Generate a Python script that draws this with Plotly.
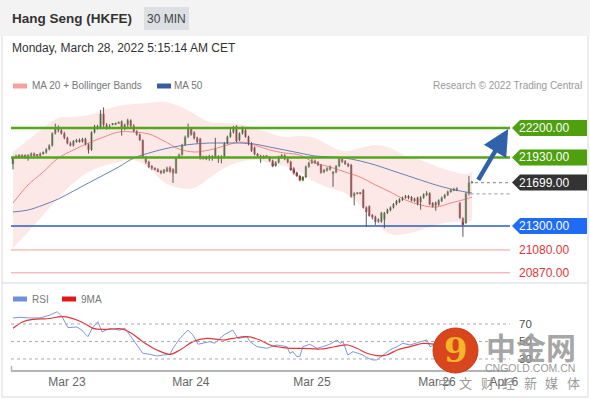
import plotly.graph_objects as go

# ---------------- data ----------------
opens = [21870,21925,21940,21935,21945,21935,21945,21965,21950,21945,21965,21975,22005,22040,22150,22205,22180,22150,22110,22060,
         22040,22080,22090,22075,22100,22050,22000,22160,22215,22200,22330,22230,22200,22230,22235,22245,22260,22190,22230,22270,
         22220,22170,22140,22090,21934,21888,21850,21830,21820,21805,21790,21800,21835,21820,21785,21925,21955,22045,22117,22190,
         22160,22110,22100,21920,21935,21920,21940,21930,21940,21920,21935,22060,22120,22160,22215,22090,22150,22180,22120,22060,
         22020,21960,21945,21925,21940,21930,21900,21855,21885,21930,21950,21915,21890,21830,21790,21760,21720,21750,21845,21880,
         21900,21885,21860,21795,21810,21820,21780,21795,21850,21915,21895,21870,21860,21575,21595,21600,21630,21470,21480,21400,
         21385,21340,21340,21360,21420,21445,21470,21500,21520,21540,21560,21575,21565,21530,21560,21520,21560,21585,21600,21510,
         21515,21495,21530,21560,21585,21615,21625,21630,21510,21370,21330,21600,21695]
highs = [21935,21955,21960,21960,21958,21960,21975,21975,21960,21975,21985,22015,22050,22160,22240,22225,22200,22165,22120,22075,
         22090,22100,22105,22110,22110,22060,22170,22230,22230,22365,22390,22245,22235,22245,22250,22260,22270,22240,22285,22280,
         22235,22180,22150,22095,21940,21900,21860,21840,21830,21815,21825,21845,21850,21830,21935,21965,22055,22130,22240,22200,
         22170,22120,22110,21945,21945,21955,21950,22110,21950,21950,22070,22130,22200,22220,22225,22160,22215,22190,22130,22070,
         22030,21970,21955,21950,21945,21940,21910,21895,21945,21960,21960,21925,21900,21840,21800,21770,21760,21855,21890,21920,
         21910,21895,21870,21825,21840,21855,21805,21860,21935,21925,21905,21880,21870,21610,21605,21605,21640,21480,21490,21410,
         21395,21370,21430,21430,21460,21480,21510,21540,21555,21570,21585,21585,21575,21560,21570,21575,21600,21620,21610,21520,
         21525,21545,21570,21595,21625,21640,21650,21655,21520,21380,21610,21760,21715]
lows = [21820,21915,21920,21925,21915,21900,21935,21940,21930,21935,21955,21965,21995,22030,22140,22160,22140,22095,22050,22030,
        22030,22065,22065,22065,22040,21965,21990,22150,22185,22190,22210,22185,22190,22225,22230,22240,22130,22180,22210,22200,
        22160,22130,22080,21925,21870,21830,21815,21810,21795,21775,21780,21795,21790,21695,21780,21915,21945,22035,22110,22130,
        22095,22060,21910,21910,21905,21900,21900,21920,21880,21875,21925,22050,22110,22150,22070,22080,22140,22110,22040,21980,
        21950,21930,21880,21915,21925,21890,21840,21845,21875,21920,21905,21875,21805,21770,21750,21710,21710,21740,21835,21870,
        21870,21850,21780,21785,21800,21810,21660,21785,21840,21880,21860,21840,21560,21490,21590,21590,21460,21290,21385,21360,
        21310,21330,21330,21280,21410,21435,21460,21490,21510,21530,21550,21545,21525,21520,21490,21450,21550,21575,21490,21470,
        21440,21485,21520,21550,21575,21605,21620,21620,21365,21200,21320,21580,21690]
closes = [21925,21940,21935,21945,21935,21945,21965,21950,21945,21965,21975,22005,22040,22150,22205,22180,22150,22110,22060,22040,
          22080,22090,22075,22100,22050,22000,22160,22215,22200,22330,22230,22200,22215,22235,22240,22250,22190,22230,22270,22220,
          22170,22140,22090,21934,21888,21842,21830,21820,21805,21790,21815,21830,21800,21785,21925,21955,22045,22117,22190,22140,
          22105,22070,21920,21935,21920,21940,21925,22010,21920,21935,22060,22120,22160,22210,22080,22150,22190,22120,22050,21990,
          21960,21945,21925,21940,21935,21900,21850,21885,21935,21950,21915,21885,21815,21785,21760,21720,21750,21845,21880,21900,
          21880,21860,21790,21815,21830,21845,21795,21850,21920,21890,21870,21850,21570,21600,21600,21595,21470,21430,21395,21380,
          21340,21360,21420,21420,21450,21470,21500,21530,21545,21560,21575,21555,21535,21550,21500,21560,21590,21600,21500,21480,
          21490,21535,21560,21585,21615,21630,21640,21645,21375,21310,21600,21700,21699]
bars = list(range(len(closes)))

band_x = [0,5,10,15,20,25,30,35,40,45,50,55,60,65,70,75,80,85,90,95,100,105,110,115,120,125,130,135,140,145,150,152]
bb_upper = [21980,22090,22200,22292,22301,22319,22365,22402,22420,22430,22439,22402,22329,22255,22246,22237,22200,22154,22117,22127,
            22108,22035,21989,22016,22044,22016,21943,21906,21851,21805,21778,21796]
ma20 = [21511,21677,21796,21924,21998,22062,22117,22163,22163,22145,22081,22007,21980,21998,22035,22071,22044,21998,21970,21952,
        21879,21842,21796,21750,21677,21612,21539,21493,21474,21511,21548,21566]
bb_lower = [21098,21245,21401,21557,21695,21796,21851,21888,21906,21833,21704,21649,21649,21741,21833,21888,21906,21879,21851,21796,
            21704,21649,21603,21493,21337,21226,21226,21263,21309,21337,21337,21355]
ma50 = [21429,21447,21493,21548,21621,21695,21768,21842,21924,21970,22007,22035,22053,22062,22062,22062,22053,22025,21998,21970,
        21943,21934,21924,21897,21860,21814,21768,21722,21677,21640,21612,21603]

rsi_x = [0,2.3,5.6,8.9,12.3,14.6,16.2,18.2,21.2,22.8,24.8,26.2,28.1,29.5,32.1,35.4,37.1,38.7,39.7,42.1,43.0,45.4,47.7,49.7,52.0,53.0,
         55.3,57.9,59.6,61.3,62.9,65.2,66.9,68.5,70.2,72.8,74.5,77.5,78.5,80.8,84.1,87.4,
         90.7,91.7,92.7,94.0,95.0,96.0,98.3,100.7,102.6,104.9,107.3,108.3,109.3,110.9,112.6,113.9,115.6,117.2,119.2,120.5,122.5,
         124.8,127.2,129.1,131.5,133.8,135.8,137.1,138.1,141.4,144.7,146.7,147.7,148.7,149.7,151.0,152.0]
rsi = [76.9,77.7,76.9,76.9,80.3,84.0,78.6,65.8,66.6,63.0,55.5,65.0,72.6,61.0,65.0,63.0,65.0,57.4,53.5,42.2,36.5,35.3,33.4,34.5,35.3,42.2,
       53.6,63.0,57.4,46.8,47.9,49.8,47.9,53.5,58.2,63.0,53.5,55.4,49.8,44.1,42.2,46.0,
       44.1,36.5,38.4,32.7,32.7,44.1,46.8,42.2,44.1,46.8,51.7,47.9,49.8,34.6,38.4,37.0,35.0,31.5,28.9,28.9,34.6,
       40.3,44.1,47.9,46.0,48.9,50.6,51.7,44.1,48.0,52.0,53.0,38.0,33.0,50.0,56.0,57.0]
ma9_x = [0,3.3,6.6,11.3,16.6,21.2,24.5,26.5,31.1,36.4,39.7,43.0,47.7,52.0,55.3,59.6,64.2,69.5,72.8,77.5,81.8,85.1,89.4,91.7,96.0,
         101.7,104.9,108.3,110.9,113.9,117.2,120.5,123.8,127.2,131.5,135.8,139.1,144.7,149.7,152.0]
rsi_ma9 = [65.1,72.6,75.3,76.0,78.4,74.6,68.9,65.0,63.9,64.2,58.2,49.8,40.3,35.3,40.3,49.8,53.6,51.7,53.6,55.5,51.7,46.0,42.9,42.2,42.2,
           41.4,42.9,45.2,46.0,42.2,36.5,33.8,34.6,40.3,44.1,47.9,47.0,48.0,46.0,47.0]

day_ticks = [17.9, 58.9, 99.0, 140.4, 162.6]
day_labels = ["Mar 23", "Mar 24", "Mar 25", "Mar 26", "Apr 6"]

target_levels = [22200, 21930]
current_price = 21699
support_level = 21300
red_levels = [21080, 20870]
prev_level = 21595
rsi_levels = [70, 50, 30]
watermark_chars = ["中", "文", "财", "经", "新", "媒", "体"]

# ---------------- figure ----------------
W, H = 590, 400
def px(x):
    return x / W
def py(y):
    return 1 - y / H

X0, X1 = 11, 510
GREEN, RED = "#3b8a2b", "#c6272c"
fig = go.Figure()

fig.add_trace(go.Scatter(x=band_x, y=bb_upper, mode="lines", line=dict(width=0, shape="spline"),
                         hoverinfo="skip", showlegend=False))
fig.add_trace(go.Scatter(x=band_x, y=bb_lower, mode="lines", line=dict(width=0, shape="spline"),
                         fill="tonexty", fillcolor="rgba(251,210,210,0.5)", hoverinfo="skip", showlegend=False))
fig.add_trace(go.Scatter(x=band_x, y=ma20, mode="lines", line=dict(width=1, color="#f08686", shape="spline"),
                         showlegend=False))
fig.add_trace(go.Scatter(x=band_x, y=ma50, mode="lines", line=dict(width=1, color="#6a7fb5", shape="spline"),
                         showlegend=False))

# candles: wicks + bodies
wx, wy = [], []
for i, h, l in zip(bars, highs, lows):
    wx += [i, i, None]
    wy += [h, l, None]
fig.add_trace(go.Scatter(x=wx, y=wy, mode="lines", line=dict(color="#5a5a5a", width=1), showlegend=False,
                         hoverinfo="skip"))
body_base = [min(o, c) for o, c in zip(opens, closes)]
body_h = [max(abs(c - o), 9) for o, c in zip(opens, closes)]
body_col = [GREEN if c >= o else RED for o, c in zip(opens, closes)]
fig.add_trace(go.Bar(x=bars, y=body_h, base=body_base, width=0.8, marker=dict(color=body_col, line=dict(width=0)),
                     showlegend=False))

fig.add_trace(go.Scatter(x=rsi_x, y=rsi, mode="lines", line=dict(width=1, color="#7b97dd"),
                         xaxis="x2", yaxis="y2", showlegend=False))
fig.add_trace(go.Scatter(x=ma9_x, y=rsi_ma9, mode="lines", line=dict(width=1.2, color="#e0353a", shape="spline"),
                         xaxis="x2", yaxis="y2", showlegend=False))

xr = [-0.66, 164.6]
fig.update_layout(
    width=W, height=H, margin=dict(l=0, r=0, t=0, b=0, pad=0, autoexpand=False), barmode="overlay",
    showlegend=False, paper_bgcolor="white", plot_bgcolor="rgba(0,0,0,0)",
    font=dict(family="Arial, Liberation Sans, sans-serif", color="#555"),
    xaxis=dict(domain=[px(X0), px(X1)], range=xr, visible=False, automargin=False),
    yaxis=dict(domain=[py(280), py(80)], range=[20804, 22641], visible=False, automargin=False),
    xaxis2=dict(domain=[px(X0), px(X1)], range=xr, anchor="y2", showgrid=False, zeroline=False, automargin=False,
                showline=True, linecolor="#b4b4b4", linewidth=2, ticks="",
                tickvals=day_ticks, ticktext=day_labels, tickfont=dict(size=12, color="#666")),
    yaxis2=dict(domain=[py(370), py(296)], range=[17.4, 102], visible=False, automargin=False),
)

shapes = []
# frame
shapes.append(dict(type="rect", xref="paper", yref="paper", x0=0, x1=1, y0=py(36), y1=1,
                   fillcolor="#f3f3f3", line=dict(width=0), layer="below"))
for (xa, ya, xb, yb) in [(2, 36, 2, 397), (588, 36, 588, 397), (2, 397, 588, 397), (2, 283, 588, 283)]:
    shapes.append(dict(type="line", xref="paper", yref="paper", x0=px(xa), x1=px(xb), y0=py(ya), y1=py(yb),
                       line=dict(color="#e6e6e6", width=1.5)))
shapes.append(dict(type="rect", xref="paper", yref="paper", x0=px(144), x1=px(189), y0=py(30), y1=py(7),
                   fillcolor="#dcdfe4", line=dict(width=0)))
shapes.append(dict(type="line", xref="paper", yref="paper", x0=px(11.5), x1=px(11.5), y0=py(366), y1=py(371),
                   line=dict(color="#b4b4b4", width=1.5)))

# levels
for lv in target_levels:
    shapes.append(dict(type="line", xref="paper", yref="y", x0=px(X0), x1=px(X1), y0=lv, y1=lv,
                       line=dict(color="#55a61a", width=2.5)))
shapes.append(dict(type="line", xref="paper", yref="y", x0=px(X0), x1=px(X1), y0=support_level, y1=support_level,
                   line=dict(color="#2b5cbd", width=1.5)))
for lv in red_levels:
    shapes.append(dict(type="line", xref="paper", yref="y", x0=px(X0), x1=px(X1), y0=lv, y1=lv,
                       line=dict(color="#f29a9a", width=1)))
shapes.append(dict(type="line", xref="x", yref="y", x0=bars[-1] + 1, x1=164.6, y0=current_price, y1=current_price,
                   line=dict(color="#999", width=1.2, dash="dot")))
shapes.append(dict(type="line", xref="x", yref="y", x0=bars[-1] - 0.5, x1=164.6, y0=prev_level, y1=prev_level,
                   line=dict(color="#aab", width=1.2, dash="dot")))
for lv in rsi_levels:
    shapes.append(dict(type="line", xref="paper", yref="y2", x0=px(X0), x1=px(X1), y0=lv, y1=lv,
                       line=dict(color="#aaa", width=1, dash="dot")))

# label badges
hh = 8 * 9.184
def badge(level, color):
    xt, xl, xr_ = px(512), px(520), px(587)
    path = (f"M {xt},{level} L {xl},{level + hh} L {xr_},{level + hh} "
            f"L {xr_},{level - hh} L {xl},{level - hh} Z")
    shapes.append(dict(type="path", xref="paper", yref="y", path=path, fillcolor=color, line=dict(width=0)))

for lv in target_levels:
    badge(lv, "#4ea00f")
badge(current_price, "#333333")
badge(support_level, "#1e6cf5")

# legend swatches
for (x0, x1, yy, c) in [(13, 27, 86, "#f6a0a0"), (157, 171, 86, "#3a5c9c"), (13, 27, 299, "#6f8fdc"), (62, 76, 299, "#e01818")]:
    shapes.append(dict(type="rect", xref="paper", yref="paper", x0=px(x0), x1=px(x1), y0=py(yy + 2.5), y1=py(yy - 2.5),
                       fillcolor=c, line=dict(width=0)))

# watermark logo circle
shapes.append(dict(type="circle", xref="paper", yref="paper", x0=px(433), x1=px(478), y0=py(373), y1=py(328),
                   fillcolor="#d9461d", line=dict(color="#c73a18", width=1)))
fig.update_layout(shapes=shapes)

ann = []
def txt(t, x, y, size, color, anchor="left", family=None):
    f = dict(size=size, color=color)
    if family:
        f["family"] = family
    ann.append(dict(text=t, x=px(x), y=py(y), xref="paper", yref="paper", xanchor=anchor, yanchor="middle",
                    showarrow=False, font=f, borderpad=0))

txt("<b>Hang Seng (HKFE)</b>", 11, 18.5, 13.5, "#333")
txt("30 MIN", 166.5, 18.5, 12, "#444", "center")
txt("Monday, March 28, 2022 5:15:14 AM CET", 11, 48, 12, "#333")
txt("MA 20 + Bollinger Bands", 31, 86, 10, "#777")
txt("MA 50", 173, 86, 10, "#777")
txt("Research © 2022 Trading Central", 583, 86, 10, "#999", "right")
txt("RSI", 31, 299, 10, "#777")
txt("9MA", 80, 299, 10, "#777")

for lv in target_levels + [current_price, support_level]:
    ann.append(dict(text=f"{lv:.2f}", x=px(518), y=lv, xref="paper", yref="y", xanchor="left", yanchor="middle",
                    showarrow=False, borderpad=0, font=dict(size=12, color="white")))
for lv in red_levels:
    ann.append(dict(text=f"{lv:.2f}", x=px(518), y=lv, xref="paper", yref="y", xanchor="left", yanchor="middle",
                    showarrow=False, borderpad=0, font=dict(size=12, color="#e0353a")))
for lv in rsi_levels:
    ann.append(dict(text=str(lv), x=px(518), y=lv, xref="paper", yref="y2", xanchor="left", yanchor="middle",
                    showarrow=False, borderpad=0, font=dict(size=11.5, color="#555")))

# forecast arrow
ann.append(dict(x=164.0, y=target_levels[0] - 10, ax=bars[-1] + 1.8, ay=current_price + 10, xref="x", yref="y",
                axref="x", ayref="y", text="", showarrow=True, arrowhead=2, arrowsize=1.15, arrowwidth=4.5,
                arrowcolor="#2f62aa"))

# watermark
txt("<b>9</b>", 456, 350, 34, "#f5b52a", "center", "DejaVu Serif")
txt("<b>中金网</b>", 531, 346, 30, "rgba(150,150,150,0.85)", "center", "Noto Sans CJK SC")
txt("CNGOLD.COM.CN", 530, 367.5, 10.5, "rgba(140,140,140,0.9)", "center")
for k, ch in enumerate(watermark_chars):
    txt(ch, 444 + k * 21.5, 382, 13, "rgba(140,140,140,0.9)", "center", "Noto Sans CJK SC")

fig.update_layout(annotations=ann)
fig.write_html("out.html",
               post_script="document.body.style.margin='0';document.body.style.overflow='hidden';")
